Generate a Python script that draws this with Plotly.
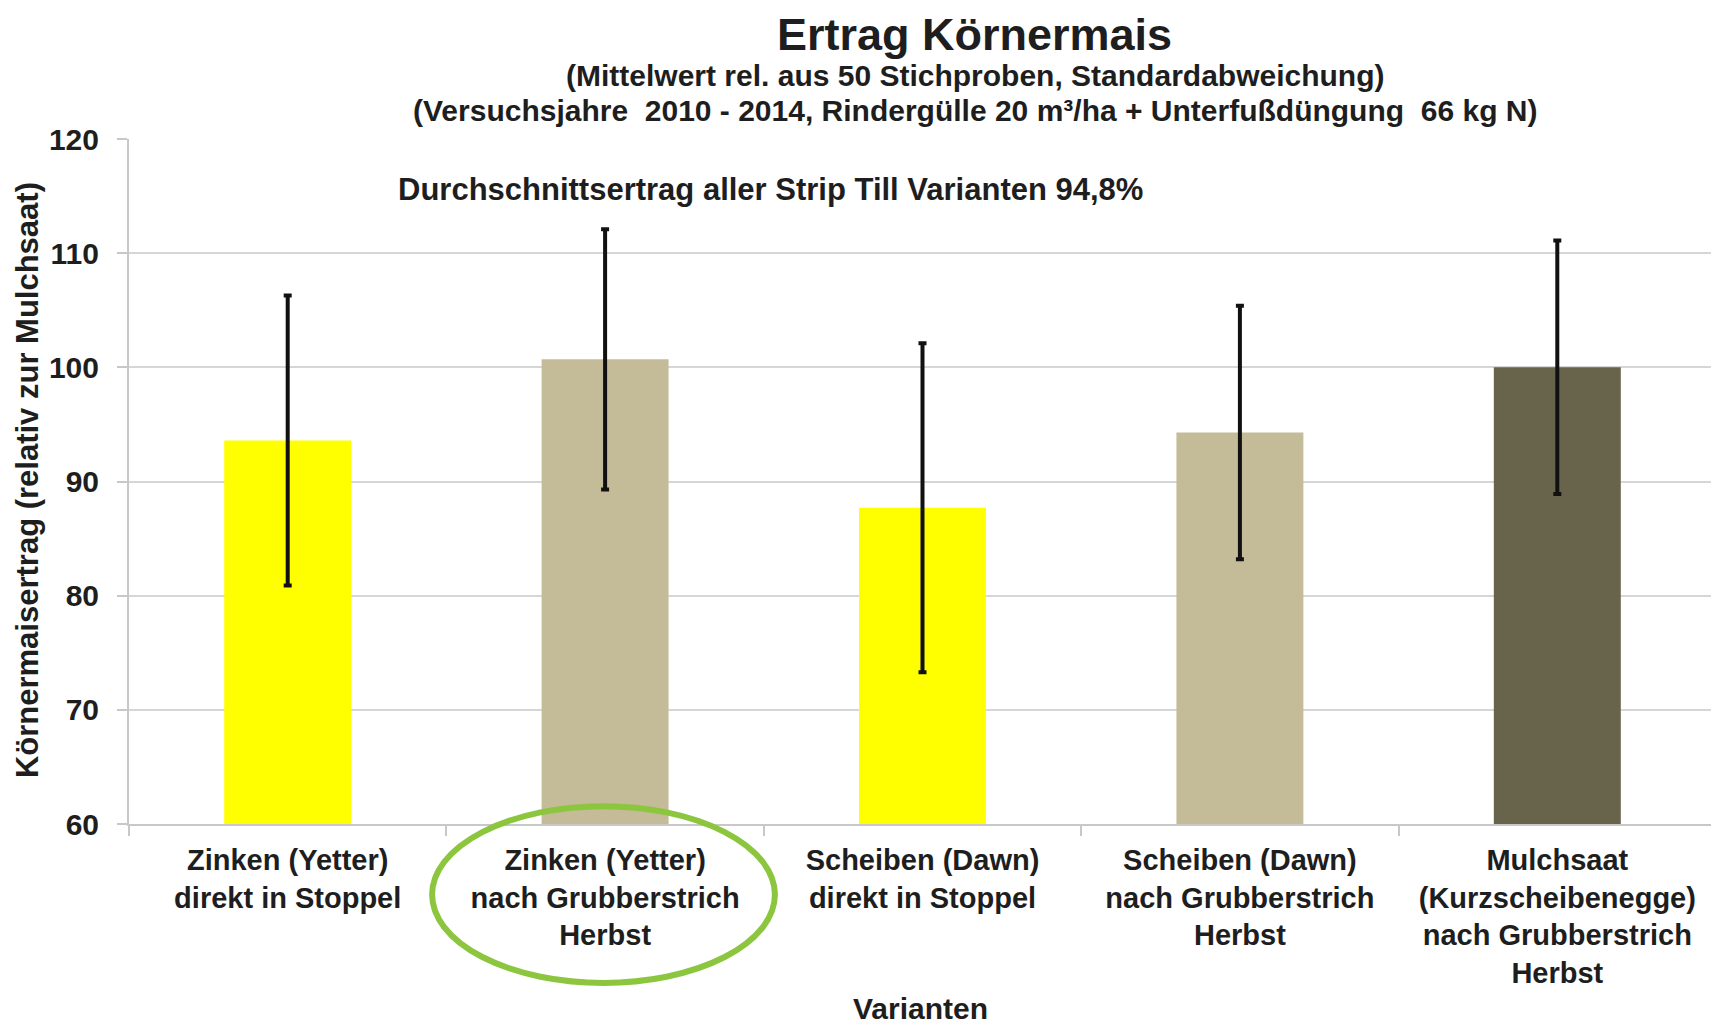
import plotly.graph_objects as go

categories = [
    "Zinken (Yetter)<br>direkt in Stoppel",
    "Zinken (Yetter)<br>nach Grubberstrich<br>Herbst",
    "Scheiben (Dawn)<br>direkt in Stoppel",
    "Scheiben (Dawn)<br>nach Grubberstrich<br>Herbst",
    "Mulchsaat<br>(Kurzscheibenegge)<br>nach Grubberstrich<br>Herbst",
]
ertrag = [93.6, 100.7, 87.7, 94.3, 100.0]
std_abw = [12.7, 11.4, 14.4, 11.1, 11.1]
bar_colors = ["#FFFF00", "#C4BB98", "#FFFF00", "#C4BB98", "#68634B"]
y_ticks = [60, 70, 80, 90, 100, 110, 120]

FONT = "Arial, Liberation Sans, sans-serif"
TXT = "#1e1e1e"

fig = go.Figure()
fig.add_trace(go.Bar(
    x=categories, y=ertrag,
    marker=dict(color=bar_colors, line=dict(width=0)),
    width=0.4,
    error_y=dict(type="data", array=std_abw, visible=True,
                 color="#111111", thickness=4, width=4),
    showlegend=False,
))

# page body has an 8px margin, so margins are compensated
fig.update_layout(
    width=1719, height=1023,
    margin=dict(l=121, r=11, t=131, b=207),
    paper_bgcolor="white", plot_bgcolor="white",
    font=dict(family=FONT, color=TXT),
)
fig.update_yaxes(
    range=[60, 120], tickvals=y_ticks,
    showgrid=True, gridcolor="#d6d6d6", gridwidth=2,
    showline=True, linecolor="#c8c8c8", linewidth=2,
    ticks="outside", ticklen=10, tickcolor="#c8c8c8", tickwidth=2,
    tickfont=dict(size=30, family=FONT, color=TXT, weight="bold"),
    ticklabelstandoff=12,
    zeroline=False,
)
fig.update_xaxes(
    showline=True, linecolor="#c8c8c8", linewidth=2,
    ticks="outside", ticklen=10, tickcolor="#c8c8c8", tickwidth=2,
    tickson="boundaries",
    tickfont=dict(size=29, family=FONT, color=TXT, weight="bold"),
    ticklabelstandoff=9,
)

def ann(text, x, y, size, xref="paper", yref="paper", angle=0):
    fig.add_annotation(text=text, x=x, y=y, xref=xref, yref=yref,
                       showarrow=False, xanchor="center", yanchor="middle",
                       textangle=angle,
                       font=dict(size=size, family=FONT, color=TXT, weight="bold"))

ann("Ertrag Körnermais", 0.533, 1.152, 45)
ann("(Mittelwert rel. aus 50 Stichproben, Standardabweichung)", 0.533, 1.093, 30)
ann("(Versuchsjahre  2010 - 2014, Rindergülle 20 m³/ha + Unterfußdüngung  66 kg N)", 0.533, 1.041, 30)
ann("Durchschnittsertrag aller Strip Till Varianten 94,8%", 0.4045, 115.6, 31, yref="y")
ann("Körnermaisertrag (relativ zur Mulchsaat)", -0.0643, 0.502, 31, angle=-90)
ann("Varianten", 0.499, -0.270, 30)

fig.add_shape(type="circle", xref="paper", yref="paper",
              x0=0.191, x1=0.407, y0=-0.232, y1=0.026,
              line=dict(color="#8CC63F", width=6))

fig.write_html("out.html")
